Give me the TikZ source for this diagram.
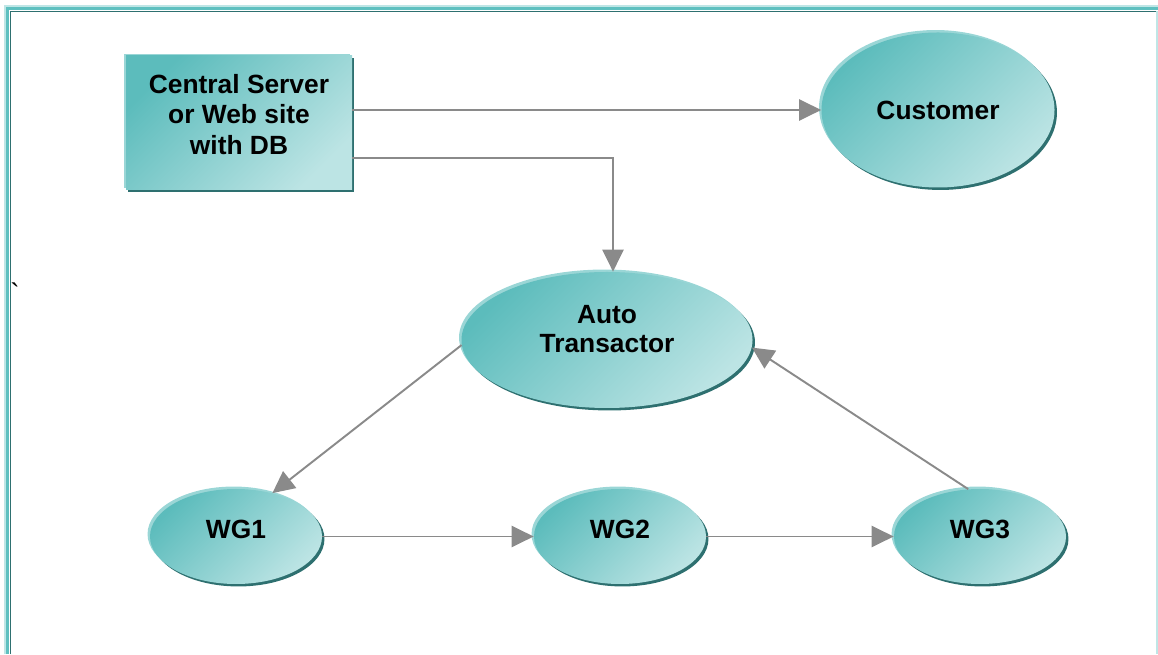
\documentclass[tikz,border=0pt]{standalone}
\usepackage{fontspec}
\setmainfont{Liberation Sans}
\usetikzlibrary{arrows.meta,shapes.geometric,shadows}

\definecolor{tealdeep}{HTML}{5CBCBC}
\definecolor{tealpale}{HTML}{BCE4E4}
\definecolor{tealrim}{HTML}{9AD6D6}
\definecolor{tealshade}{HTML}{2E7070}
\definecolor{framelight}{HTML}{BFE6E6}
\definecolor{framemid}{HTML}{5FC0C0}
\definecolor{arrowgray}{HTML}{8A8A8A}

\begin{document}
\begin{tikzpicture}[font=\fontsize{15}{17.5}\selectfont\bfseries, >={Triangle[length=12.5pt,width=12pt]},
  tealfill/.style={top color=tealdeep, bottom color=tealpale, shading angle=45,
    general shadow={shadow xshift=-1.4pt, shadow yshift=1.4pt, fill=tealrim},
    drop shadow={shadow xshift=1.4pt, shadow yshift=-1.4pt, fill=tealshade, opacity=1}},
  server/.style={tealfill, rectangle, align=center, minimum width=4.52cm, minimum height=2.68cm, inner sep=0pt},
  party/.style={tealfill, ellipse, align=center, inner sep=0pt},
  wg/.style={party, minimum width=3.44cm, minimum height=1.9cm, text depth=8pt},
  arr/.style={->, arrowgray, line width=1.1pt}]
  \useasboundingbox (0,0) rectangle (23.16,13.08);

  % frame
  \draw[framelight, line width=0.05cm] (0.10,0) |- (23.16,12.96);
  \draw[framemid, line width=0.06cm] (0.15,0) |- (23.16,12.91);
  \draw[tealshade, line width=0.03cm] (0.21,0) |- (23.16,12.85);
  \draw[framelight, line width=0.04cm] (23.14,12.85) -- (23.14,0);
  \node[font=\fontsize{16}{18}\selectfont] (tick) at (0.30,7.22) {\textasciigrave};

  \node[server, text depth=10pt] (srv) at (4.78,10.62) {Central Server\\or Web site\\with DB};
  \node[party, minimum width=4.66cm, minimum height=3.1cm] (cust) at (18.76,10.88) {Customer};
  \node[party, minimum width=5.82cm, minimum height=2.72cm, text depth=13pt,
    font=\fontsize{15}{16.5}\selectfont\bfseries] (auto) at (12.14,6.28) {Auto\\Transactor};
  \node[wg] (wg1) at (4.72,2.35) {WG1};
  \node[wg] (wg2) at (12.40,2.35) {WG2};
  \node[wg] (wg3) at (19.60,2.35) {WG3};

  \draw[arr] (srv.east |- cust.west) -- (cust.west);
  \draw[arr] ([yshift=-0.7cm]srv.east) -| ([xshift=0.12cm]auto.north);
  \draw[arr] (auto.182) -- (wg1.50);
  \draw[arr] (wg1.east) -- (wg2.west);
  \draw[arr] (wg2.east) -- (wg3.west);
  \draw[arr] (wg3.104) -- (auto.-3);
\end{tikzpicture}
\end{document}
